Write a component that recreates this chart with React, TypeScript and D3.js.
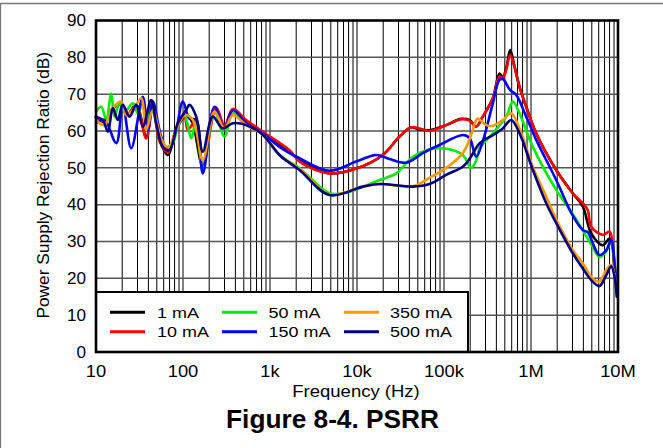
import React from "react";
import * as d3 from "d3";

// ---------- data ----------
const xTickValues = [10, 100, 1e3, 1e4, 1e5, 1e6, 1e7];
const xTickLabels = ["10", "100", "1k", "10k", "100k", "1M", "10M"];
const yTickValues = [0, 10, 20, 30, 40, 50, 60, 70, 80, 90];

const seriesLabels = ["1 mA", "10 mA", "50 mA", "150 mA", "350 mA", "500 mA"];

const ma1: [number, number][] = [
  [10, 63.9], [12.5, 62.5], [15.6, 66.2], [19.5, 67.5], [22.7, 64.3], [29, 67.1], [37.8, 58.5], [45, 67],
  [53.7, 57.6], [67, 53.5], [83.4, 60.3], [108.8, 64.3], [118.7, 63.5], [130, 62.1], [169, 50.3], [230, 66.2],
  [300, 61.2], [373.6, 65.7], [532, 62.8], [826, 59.4], [1675, 54.4], [2183, 52], [4830, 48.5], [9795, 49.8],
  [19810, 53.5], [30830, 58.5], [41990, 61], [49960, 60.5], [68080, 60.2], [105900, 61.6], [157600, 63.3],
  [196000, 63], [234500, 61.2], [279000, 63.9], [364000, 68.9], [434500, 75.6], [474000, 74.6], [518800, 77],
  [576800, 82], [645700, 77.5], [737900, 72], [880800, 66.6], [1148000, 59.4], [1950000, 49.4], [3020000, 43.1],
  [3940000, 39.5], [4920000, 32.2], [6680000, 29], [7980000, 30.8], [8570000, 29], [9120000, 22], [9700000, 15.9],
];

const ma10: [number, number][] = [
  [10, 63.5], [12.5, 62.8], [15.6, 66], [19.5, 67.3], [22.7, 64.5], [29, 66.8], [37.8, 58], [45, 66.5],
  [53.7, 57.2], [67, 54.2], [83.4, 60.5], [104, 64], [113.6, 60.3], [141.8, 63], [169, 50], [240.5, 66.4],
  [300, 61.5], [373.6, 66], [532, 63], [826, 59.8], [1675, 54.8], [2183, 51.7], [4830, 48.5], [9795, 49.8],
  [19810, 53.5], [30830, 58.5], [41990, 61], [49960, 60.8], [68080, 60], [105900, 61.6], [157600, 63.2],
  [196000, 62.8], [234500, 61.2], [279000, 63.9], [364000, 68.9], [434500, 74.8], [474000, 74.4], [518800, 76.6],
  [576800, 80.6], [645700, 77.5], [737900, 72], [880800, 66.6], [1148000, 59.4], [1950000, 49.4], [3020000, 43.1],
  [3940000, 40.4], [4500000, 38.5], [4920000, 34], [6680000, 31.8], [7980000, 32.7], [8570000, 30.5],
  [9120000, 23.2], [9700000, 16.9],
];

const ma50: [number, number][] = [
  [10, 65.3], [11.5, 66.6], [13.1, 63], [14.95, 70.2], [16.3, 63.9], [18.6, 67.5], [21.3, 65.3], [26.5, 67.5],
  [30.2, 64.8], [34.5, 67.3], [37.8, 62.1], [43.1, 67.1], [53.7, 58.5], [64.1, 55.7], [76.2, 56.7], [87.1, 61.2],
  [104, 64.3], [124.3, 58], [141.8, 63], [169, 49], [230, 65.3], [299.6, 58.5], [373.6, 64.8], [532, 62],
  [826, 59], [1285, 53.5], [2183, 49.9], [4830, 43.1], [7516, 43.3], [18150, 46.7], [28240, 48.5], [43750, 53],
  [68080, 55], [105900, 55.2], [164400, 53.5], [205600, 50], [234500, 52], [256000, 55.2], [364000, 59.4],
  [518800, 63.9], [618000, 68], [737900, 64.8], [1050000, 55.7], [1950000, 44], [3020000, 37.5],
  [3940000, 33], [5130000, 28.5], [6120000, 25.8], [7310000, 27.3], [8360000, 30.4], [9120000, 24], [9700000, 16],
];

const ma150: [number, number][] = [
  [10, 62.1], [12.5, 63], [17.1, 56.7], [20.3, 67.1], [25.4, 55.3], [34.5, 69.3], [39.4, 60.3], [45, 68],
  [56.1, 58.5], [67, 54.8], [83.4, 60.3], [99.5, 68], [118.7, 63.4], [141.8, 63], [169, 48.5], [230, 66.6],
  [299.6, 60.7], [373.6, 65.7], [532, 62.1], [826, 59.4], [1285, 55.7], [2183, 52.6], [4830, 49.2], [9795, 51.7],
  [16630, 53.5], [23650, 52.4], [36800, 51.4], [57040, 54], [88720, 56.2], [164400, 58.9], [196400, 58.1],
  [234500, 53], [279000, 57.2], [364000, 67.5], [434500, 73.9], [474000, 74.1], [576800, 71.1], [675900, 69.8],
  [880800, 63.9], [1148000, 57.6], [1950000, 46.7], [3020000, 37], [3940000, 33.1], [4500000, 32.5],
  [5130000, 29.5], [6120000, 26.3], [7310000, 27.6], [8360000, 30.4], [9120000, 24.1], [9700000, 15.9],
];

const ma350: [number, number][] = [
  [10, 63], [12.5, 61.6], [15.6, 66.2], [19.5, 68], [22.2, 64.3], [26.5, 65.7], [33.1, 68.9], [37.8, 60.3],
  [45, 65.7], [56.1, 58], [67, 55.3], [83.4, 60.3], [104, 64.3], [129.8, 63], [169, 52.1], [230, 65.3],
  [299.6, 60.7], [373.6, 64.3], [532, 61.6], [826, 59], [1285, 53.5], [2183, 49.7], [4830, 42.8], [11670, 44.9],
  [18150, 45.6], [43750, 45], [68080, 47.3], [105900, 50], [164400, 54], [196400, 57.7], [234500, 63],
  [244700, 63.4], [305500, 61.6], [364000, 61.4], [474000, 63], [591600, 64.8], [737900, 60.7], [1050000, 50.2],
  [1496000, 42.2], [1950000, 36], [3020000, 27.7], [3940000, 24.1], [4920000, 20.4], [6120000, 19.1],
  [7310000, 22.3], [8360000, 23.6], [9120000, 21], [9700000, 15],
];

const ma500: [number, number][] = [
  [10, 63.9], [11.97, 63], [13.7, 59.8], [15.6, 66.2], [17.8, 63], [20.3, 67.1], [24.3, 63.9], [29, 67.1],
  [34.5, 61.2], [43.1, 68.4], [49.2, 62.1], [58.6, 55.7], [69.9, 54.8], [87.1, 62.1], [108.8, 65.7], [118.7, 67.1],
  [141.8, 63.9], [169, 54.4], [220, 63.9], [286.5, 60.7], [373.6, 62.1], [532, 61.6], [826, 59], [1285, 53.5],
  [2183, 49.4], [4830, 42.6], [11670, 44.9], [18150, 45.6], [43750, 44.9], [68080, 45.6], [105900, 48.1],
  [164400, 50.3], [196400, 52.4], [256000, 56.6], [364000, 58.9], [474000, 60.7], [591600, 63], [737900, 59.4],
  [1050000, 49.4], [1496000, 40.4], [1950000, 35], [3020000, 26.8], [3940000, 22.7], [4920000, 19.5],
  [6120000, 17.9], [7310000, 20.8], [8360000, 23.3], [9120000, 20.5], [9700000, 15],
];

const seriesData = [ma1, ma10, ma50, ma150, ma350, ma500];
const seriesColors = ["#000000", "#ff0000", "#00ee00", "#0000ff", "#ff9900", "#000080"];

// ---------- layout ----------
const W = 663;
const H = 448;
const PL = 96;
const PR = 618;
const PT = 20.5;
const PB = 352;
const FONT = "'Liberation Sans', Arial, Helvetica, sans-serif";

export default function App() {
  const x = d3.scaleLog().domain([10, 1e7]).range([PL, PR]);
  const y = d3.scaleLinear().domain([0, 90]).range([PB, PT]);

  const minorTicks: number[] = [];
  for (let dec = 10; dec < 1e7; dec *= 10) {
    for (let k = 2; k <= 9; k++) minorTicks.push(dec * k);
  }
  for (let dec = 100; dec < 1e7; dec *= 10) minorTicks.push(dec);

  const line = d3
    .line<[number, number]>()
    .x((d) => x(d[0]))
    .y((d) => y(d[1]))
    .curve(d3.curveCatmullRom.alpha(0.5));

  // legend
  const legX = PL;
  const legY = 292;
  const legW = 468 - PL;
  const legH = PB - legY;
  const colLine = [110, 222, 344];
  const colText = [157, 268.5, 390];
  const rowLine = [312.3, 331.7];
  const rowText = [317.5, 336.8];

  return (
    <svg
      width={W}
      height={H}
      style={{ position: "absolute", left: 0, top: 0, background: "#fff" }}
      fontFamily={FONT}
    >
      <rect x={0} y={0} width={W} height={H} fill="#fff" />
      {/* outer frame */}
      <path d={`M0.5,${H} L0.5,3.5 L${W},3.5`} fill="none" stroke="#777" strokeWidth={1.3} />

      {/* grid */}
      <g stroke="#000" strokeWidth={1}>
        {minorTicks.map((t, i) => (
          <line key={"v" + i} x1={x(t)} x2={x(t)} y1={PT} y2={PB} />
        ))}
      </g>
      <g stroke="#555" strokeWidth={1.5}>
        {yTickValues.slice(1, -1).map((t, i) => (
          <line key={"h" + i} x1={PL} x2={PR} y1={y(t)} y2={y(t)} />
        ))}
      </g>

      {/* series */}
      <g fill="none" strokeWidth={2.6} strokeLinejoin="round" strokeLinecap="round">
        {seriesData.map((s, i) => (
          <path key={i} d={line(s) || ""} stroke={seriesColors[i]} />
        ))}
      </g>

      {/* legend */}
      <rect x={legX} y={legY} width={legW} height={legH} fill="#fff" stroke="#000" strokeWidth={2} />
      {seriesLabels.map((lab, i) => {
        const col = Math.floor(i / 2);
        const row = i % 2;
        return (
          <g key={lab}>
            <line
              x1={colLine[col]}
              x2={colLine[col] + 35}
              y1={rowLine[row]}
              y2={rowLine[row]}
              stroke={seriesColors[i]}
              strokeWidth={3}
            />
            <text
              transform={`translate(${colText[col]},${rowText[row]}) scale(1.16,1)`}
              fontSize={15.5}
              fill="#000"
            >
              {lab}
            </text>
          </g>
        );
      })}

      {/* plot border */}
      <rect x={PL} y={PT} width={PR - PL} height={PB - PT} fill="none" stroke="#000" strokeWidth={2.6} />

      {/* y tick labels */}
      {yTickValues.map((t) => (
        <text
          key={"yl" + t}
          transform={`translate(86,${y(t) + 5.8}) scale(1.07,1)`}
          textAnchor="end"
          fontSize={16}
          fill="#000"
        >
          {t}
        </text>
      ))}

      {/* x tick labels */}
      {xTickValues.map((t, i) => (
        <text
          key={"xl" + t}
          transform={`translate(${x(t)},377) scale(1.08,1)`}
          textAnchor="middle"
          fontSize={17}
          fill="#000"
        >
          {xTickLabels[i]}
        </text>
      ))}

      {/* axis titles */}
      <text
        transform={`translate(356,396.5) scale(1.09,1)`}
        textAnchor="middle"
        fontSize={17}
        fill="#000"
      >
        Frequency (Hz)
      </text>
      <text
        transform={`translate(48.5,${(PT + PB) / 2 - 1}) rotate(-90) scale(1.02,1)`}
        textAnchor="middle"
        fontSize={17}
        fill="#000"
      >
        Power Supply Rejection Ratio (dB)
      </text>

      {/* figure title */}
      <text
        transform={`translate(332.5,427.5) scale(1.05,1)`}
        textAnchor="middle"
        fontSize={25}
        fontWeight="bold"
        fill="#000"
      >
        Figure 8-4. PSRR
      </text>
    </svg>
  );
}
